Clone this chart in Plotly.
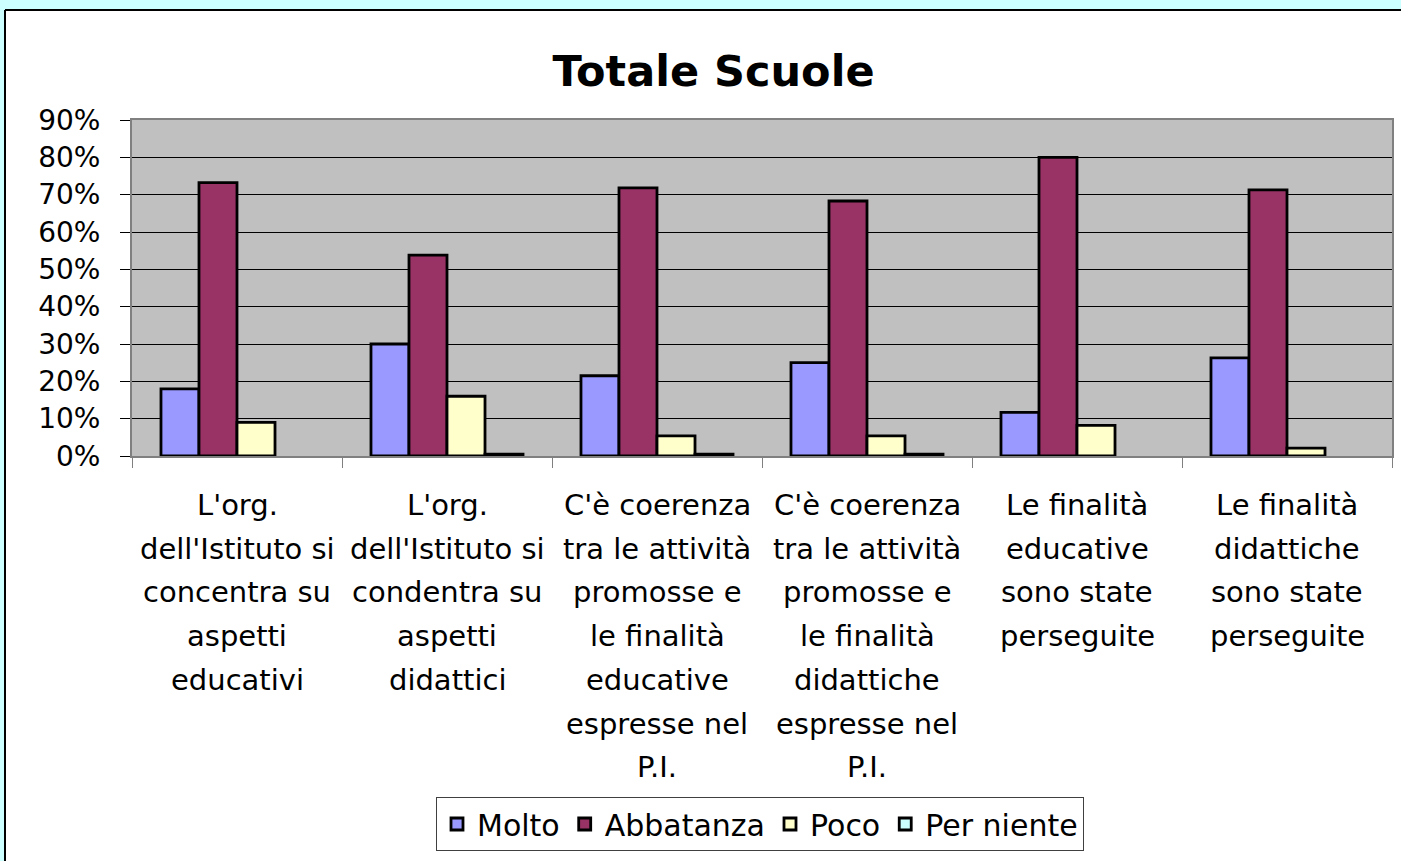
import plotly.graph_objects as go

# ---------------- data ----------------
category_lines = [
    ["L'org.", "dell'Istituto si", "concentra su", "aspetti", "educativi"],
    ["L'org.", "dell'Istituto si", "condentra su", "aspetti", "didattici"],
    ["C'è coerenza", "tra le attività", "promosse e", "le finalità", "educative", "espresse nel", "P.I."],
    ["C'è coerenza", "tra le attività", "promosse e", "le finalità", "didattiche", "espresse nel", "P.I."],
    ["Le finalità", "educative", "sono state", "perseguite"],
    ["Le finalità", "didattiche", "sono state", "perseguite"],
]
categories = [" ".join(l) for l in category_lines]

molto = [0.18, 0.30, 0.215, 0.25, 0.117, 0.263]
abbatanza = [0.732, 0.538, 0.718, 0.683, 0.80, 0.713]
poco = [0.09, 0.16, 0.054, 0.054, 0.082, 0.021]
per_niente = [0.0, 0.005, 0.005, 0.005, 0.0, 0.0]

series_names = ["Molto", "Abbatanza", "Poco", "Per niente"]
series_values = [molto, abbatanza, poco, per_niente]
series_colors = ["#9999FF", "#993366", "#FFFFCC", "#CCFFFF"]

y_tickvals = [0, 0.1, 0.2, 0.3, 0.4, 0.5, 0.6, 0.7, 0.8, 0.9]
y_ticktext = ["0%", "10%", "20%", "30%", "40%", "50%", "60%", "70%", "80%", "90%"]

# ---------------- geometry ----------------
W, H = 1401, 861
PL, PR, PT, PB = 132, 1392, 120, 456
FONT = "DejaVu Sans"

fig = go.Figure()
for name, vals, col in zip(series_names, series_values, series_colors):
    fig.add_trace(go.Bar(
        name=name, x=categories, y=[v if v > 0 else None for v in vals],
        marker=dict(color=col, line=dict(color="black", width=2.8)),
        hoverinfo="x+y+name",
    ))

def py(ypix):
    return (PB - ypix) / (PB - PT)

def px(xpix):
    return (xpix - PL) / (PR - PL)

annotations = []
for cat, lines in zip(categories, category_lines):
    for j, line in enumerate(lines):
        annotations.append(dict(
            x=cat, xref="x", y=py(505 + 43.7 * j), yref="paper",
            text=line, showarrow=False, xanchor="center", yanchor="middle",
            font=dict(family=FONT, size=29, color="black"),
        ))

shapes = [
    # cyan page strips
    dict(type="rect", xref="paper", yref="paper", x0=px(-5), x1=px(W + 5),
         y0=py(10), y1=py(-5), fillcolor="#CCFFFF", line=dict(width=0), layer="below"),
    dict(type="rect", xref="paper", yref="paper", x0=px(-5), x1=px(5),
         y0=py(H + 5), y1=py(-5), fillcolor="#CCFFFF", line=dict(width=0), layer="below"),
    # black border of chart area
    dict(type="line", xref="paper", yref="paper", x0=px(5), x1=px(W + 5),
         y0=py(10), y1=py(10), line=dict(color="black", width=2)),
    dict(type="line", xref="paper", yref="paper", x0=px(5), x1=px(5),
         y0=py(10), y1=py(H + 5), line=dict(color="black", width=2)),
]

fig.update_layout(
    width=W, height=H,
    margin=dict(l=PL, r=W - PR, t=PT, b=H - PB, autoexpand=False),
    paper_bgcolor="white",
    plot_bgcolor="#C0C0C0",
    barmode="group", bargap=0.276, bargroupgap=0,
    font=dict(family=FONT, color="black"),
    title=dict(text="<b>Totale Scuole</b>", x=713.5 / W, xanchor="center",
               y=1 - 71 / H, yanchor="middle", xref="container",
               font=dict(family=FONT, size=43, color="black")),
    showlegend=True,
    legend=dict(orientation="h", xref="container", yref="container",
                x=760 / W, xanchor="center", y=1 - 797 / H, yanchor="top",
                bgcolor="white", bordercolor="#404040", borderwidth=1,
                font=dict(family=FONT, size=30, color="black"),
                itemwidth=30, traceorder="normal"),
    annotations=annotations,
    shapes=shapes,
)

fig.update_xaxes(
    type="category", tickson="boundaries", ticks="outside", ticklen=10,
    tickcolor="#808080", tickwidth=1, showticklabels=False,
    showline=True, linecolor="#808080", linewidth=2, mirror=True,
    showgrid=False, zeroline=False,
)
fig.update_yaxes(
    range=[0, 0.9], tickvals=y_tickvals, ticktext=y_ticktext,
    ticks="outside", ticklen=10, tickcolor="black", tickwidth=1,
    ticklabelstandoff=14,
    tickfont=dict(family=FONT, size=28, color="black"),
    showgrid=True, gridcolor="black", gridwidth=1,
    showline=True, linecolor="#808080", linewidth=2, mirror=True,
    zeroline=False,
)

fig.write_html(
    "out.html",
    config={"displayModeBar": False},
    post_script="document.body.style.margin='0';document.body.style.overflow='hidden';",
)
